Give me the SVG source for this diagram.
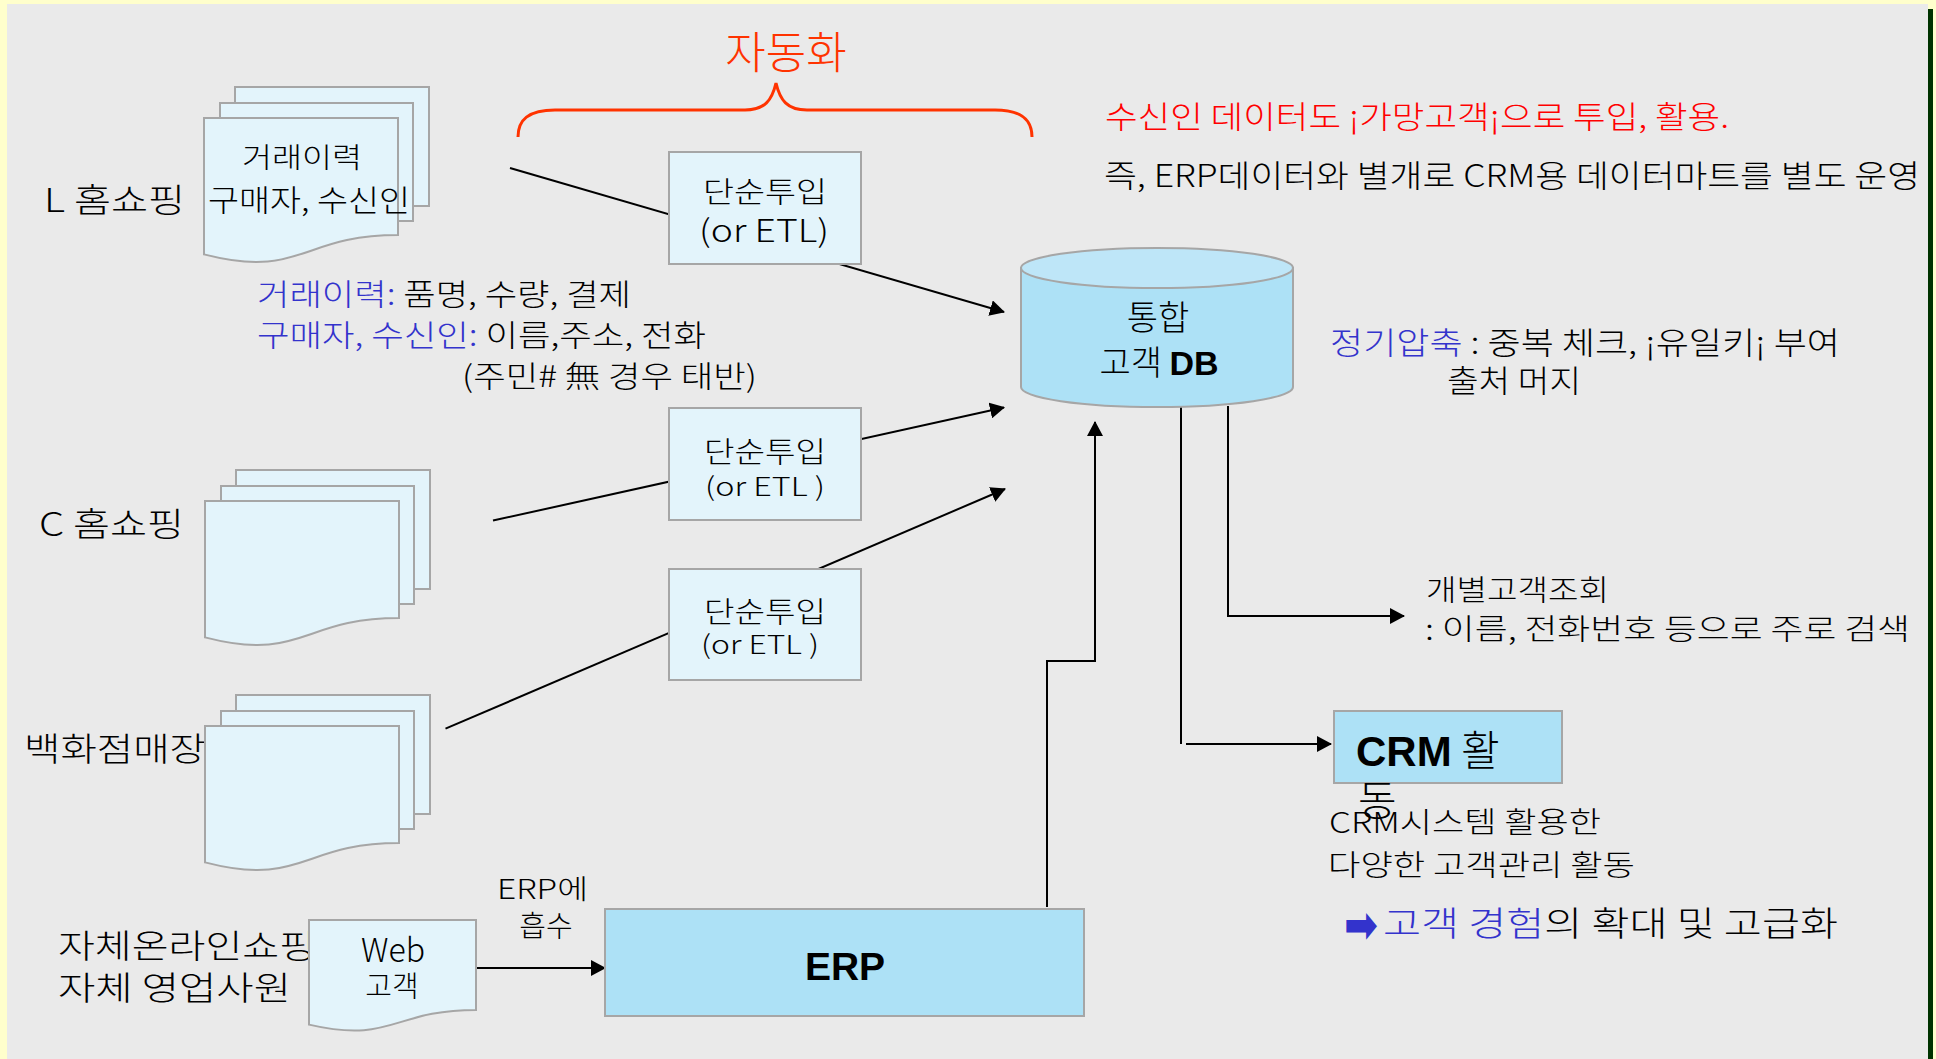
<svg xmlns="http://www.w3.org/2000/svg" xmlns:xlink="http://www.w3.org/1999/xlink" width="1936" height="1059" viewBox="0 0 1936 1059">
  <style>
    .kr { font-family: 'Noto Sans CJK KR', 'Noto Sans CJK SC', 'DejaVu Sans', sans-serif; font-weight: 300; fill: #000; }
    .lat { font-family: 'Noto Sans CJK KR', 'Liberation Sans', sans-serif; font-weight: 300; fill: #000; }
    .bold { font-family: 'Liberation Sans', Arial, sans-serif; font-weight: bold; fill: #000; }
    .blue { fill: #3333CC; }
    .red { fill: #FF0000; }
    .orange { fill: #FF3300; }
    .sheet { fill: #E3F4FB; stroke: #A6A6A6; stroke-width: 2; }
    .step { fill: #E3F4FB; stroke: #A6A6A6; stroke-width: 2; }
    .core { fill: #ADE1F6; stroke: #A6A6A6; stroke-width: 2; }
    .wire { fill: none; stroke: #000; stroke-width: 2; }
    .mid { text-anchor: middle; }
    .pointer { font-family: 'DejaVu Sans', sans-serif; font-weight: bold; fill: #3333CC; }
  </style>
  <defs>
    <marker id="ah" viewBox="0 0 15 16" refX="14" refY="8" markerWidth="15" markerHeight="16" markerUnits="userSpaceOnUse" orient="auto">
      <path d="M0,0 L15,8 L0,16 z" fill="#000"/>
    </marker>
    <!-- stack of three paper sheets, front sheet origin at (0,0) -->
    <g id="docstack">
      <rect class="sheet" x="31" y="-31" width="194" height="119"/>
      <rect class="sheet" x="16" y="-15" width="193" height="118"/>
      <path class="sheet" d="M0,0 H194 V117 C97,117 97,161.6 0,136.4 Z"/>
    </g>
  </defs>

  <!-- slide frame -->
  <rect x="0" y="0" width="1936" height="1059" fill="#FFFFCC"/>
  <rect x="7" y="4" width="1921" height="1055" fill="#EAEAEA"/>
  <rect x="1928" y="9" width="5" height="1050" fill="#003300"/>

  <!-- source labels (drawn beneath the document shapes) -->
  <g id="labels">
    <text class="kr" x="44" y="212" font-size="33" textLength="141" lengthAdjust="spacingAndGlyphs">L 홈쇼핑</text>
    <text class="kr" x="39" y="536" font-size="33" textLength="145" lengthAdjust="spacingAndGlyphs">C 홈쇼핑</text>
    <text class="kr" x="24" y="761" font-size="33" textLength="182" lengthAdjust="spacingAndGlyphs">백화점매장</text>
    <text class="kr" x="58" y="958" font-size="33" textLength="258" lengthAdjust="spacingAndGlyphs">자체온라인쇼핑</text>
    <text class="kr" x="58" y="1000" font-size="33" textLength="233" lengthAdjust="spacingAndGlyphs">자체 영업사원</text>
  </g>

  <!-- connectors -->
  <g id="connectors">
    <line class="wire" x1="510" y1="168" x2="1004" y2="312" marker-end="url(#ah)"/>
    <line class="wire" x1="493" y1="520.6" x2="1004" y2="407.5" marker-end="url(#ah)"/>
    <line class="wire" x1="445.5" y1="728.7" x2="1005" y2="489" marker-end="url(#ah)"/>
    <polyline class="wire" points="1047,907 1047,661 1095,661 1095,422" marker-end="url(#ah)"/>
    <line class="wire" x1="476" y1="968" x2="605" y2="968" marker-end="url(#ah)"/>
    <polyline class="wire" points="1228,406 1228,616 1404,616" marker-end="url(#ah)"/>
    <line class="wire" x1="1181" y1="406" x2="1181" y2="744"/>
    <line class="wire" x1="1186" y1="744" x2="1331" y2="744" marker-end="url(#ah)"/>
  </g>

  <!-- automation brace -->
  <g id="automation">
    <path d="M518,137 C518,120 528,110 555,110 H745 C765,110 772,100 776,83 C780,100 787,110 807,110 H995 C1022,110 1032,120 1032,137" fill="none" stroke="#FF3300" stroke-width="3"/>
    <text class="kr orange mid" x="786" y="69" font-size="44">자동화</text>
  </g>

  <g id="note-top">
    <text class="kr red" x="1105" y="128" font-size="31" textLength="624" lengthAdjust="spacingAndGlyphs">수신인 데이터도 ¡가망고객¡으로 투입, 활용.</text>
    <text class="kr" x="1104" y="187" font-size="31" textLength="816" lengthAdjust="spacingAndGlyphs">즉, ERP데이터와 별개로 CRM용 데이터마트를 별도 운영</text>
  </g>

  <g id="src-l">
    <use xlink:href="#docstack" transform="translate(204,118)"/>
    <text class="kr mid" x="302" y="168" font-size="28" textLength="120" lengthAdjust="spacingAndGlyphs">거래이력</text>
    <text class="kr mid" x="309" y="211" font-size="30" textLength="202" lengthAdjust="spacingAndGlyphs">구매자, 수신인</text>
  </g>

  <g id="src-l-fields">
    <text class="kr" x="257" y="305" font-size="30" textLength="374" lengthAdjust="spacingAndGlyphs"><tspan class="blue">거래이력:</tspan> 품명, 수량, 결제</text>
    <text class="kr" x="257" y="346" font-size="30" textLength="449" lengthAdjust="spacingAndGlyphs"><tspan class="blue">구매자, 수신인:</tspan> 이름,주소, 전화</text>
    <text class="kr" x="462" y="387" font-size="30" textLength="295" lengthAdjust="spacingAndGlyphs">(주민# 無 경우 태반)</text>
  </g>

  <g id="src-c">
    <use xlink:href="#docstack" transform="translate(205,501)"/>
  </g>

  <g id="src-dept">
    <use xlink:href="#docstack" transform="translate(205,726)"/>
  </g>

  <g id="src-web">
    <path class="sheet" d="M309,920 H476 V1010 C392.5,1010 392.5,1044 309,1024.6 Z"/>
    <text class="lat mid" x="393" y="962" font-size="33" textLength="64" lengthAdjust="spacingAndGlyphs">Web</text>
    <text class="kr mid" x="392" y="997" font-size="29">고객</text>
  </g>

  <g id="erp-label">
    <text class="kr" x="497" y="899" font-size="27" textLength="91" lengthAdjust="spacingAndGlyphs">ERP에</text>
    <text class="kr mid" x="546" y="937" font-size="29">흡수</text>
  </g>

  <g id="load-1">
    <rect class="step" x="669" y="152" width="192" height="112"/>
    <text class="kr mid" x="765" y="203" font-size="29" textLength="124" lengthAdjust="spacingAndGlyphs">단순투입</text>
    <text class="lat mid" x="764" y="242" font-size="31" textLength="130" lengthAdjust="spacingAndGlyphs">(or ETL)</text>
  </g>

  <g id="load-2">
    <rect class="step" x="669" y="408" width="192" height="112"/>
    <text class="kr mid" x="765" y="463" font-size="29" textLength="122" lengthAdjust="spacingAndGlyphs">단순투입</text>
    <text class="lat mid" x="765" y="496" font-size="26" textLength="120" lengthAdjust="spacingAndGlyphs">(or ETL )</text>
  </g>

  <g id="load-3">
    <rect class="step" x="669" y="569" width="192" height="111"/>
    <text class="kr mid" x="765" y="623" font-size="29" textLength="122" lengthAdjust="spacingAndGlyphs">단순투입</text>
    <text class="lat mid" x="760" y="654" font-size="26" textLength="118" lengthAdjust="spacingAndGlyphs">(or ETL )</text>
  </g>

  <g id="erp">
    <rect class="core" x="605" y="909" width="479" height="107"/>
    <text class="bold mid" x="845" y="980" font-size="39">ERP</text>
  </g>

  <g id="customer-db">
    <path d="M1021,268 V387 A136,20 0 0 0 1293,387 V268 Z" fill="#ADE1F6" stroke="#A6A6A6" stroke-width="2"/>
    <ellipse cx="1157" cy="268" rx="136" ry="20" fill="#BEE6F8" stroke="#A6A6A6" stroke-width="2"/>
    <text class="kr mid" x="1158" y="330" font-size="34">통합</text>
    <text class="kr mid" x="1159" y="375" font-size="34">고객 <tspan class="bold">DB</tspan></text>
  </g>

  <g id="db-note">
    <text class="kr" x="1330" y="354" font-size="31" textLength="510" lengthAdjust="spacingAndGlyphs"><tspan class="blue">정기압축</tspan> : 중복 체크, ¡유일키¡ 부여</text>
    <text class="kr" x="1447" y="392" font-size="31" textLength="134" lengthAdjust="spacingAndGlyphs">출처 머지</text>
  </g>

  <g id="lookup">
    <text class="kr" x="1426" y="601" font-size="29" textLength="183" lengthAdjust="spacingAndGlyphs">개별고객조회</text>
    <text class="kr" x="1425" y="640" font-size="29" textLength="485" lengthAdjust="spacingAndGlyphs">: 이름, 전화번호 등으로 주로 검색</text>
  </g>

  <g id="crm">
    <rect class="core" x="1334" y="711" width="228" height="72"/>
    <text x="1356" y="766" font-size="42"><tspan class="bold">CRM</tspan><tspan class="kr"> 활</tspan></text>
    <text class="kr" x="1358" y="816" font-size="42">동</text>
  </g>

  <g id="crm-note">
    <text class="kr" x="1329" y="833" font-size="29" textLength="272" lengthAdjust="spacingAndGlyphs">CRM시스템 활용한</text>
    <text class="kr" x="1328" y="876" font-size="29" textLength="307" lengthAdjust="spacingAndGlyphs">다양한 고객관리 활동</text>
    <text class="pointer" x="1344" y="942" font-size="50" textLength="34" lengthAdjust="spacingAndGlyphs">➡</text>
    <text class="kr" x="1383" y="936" font-size="34" textLength="455" lengthAdjust="spacingAndGlyphs"><tspan class="blue">고객 경험</tspan>의 확대 및 고급화</text>
  </g>
</svg>
